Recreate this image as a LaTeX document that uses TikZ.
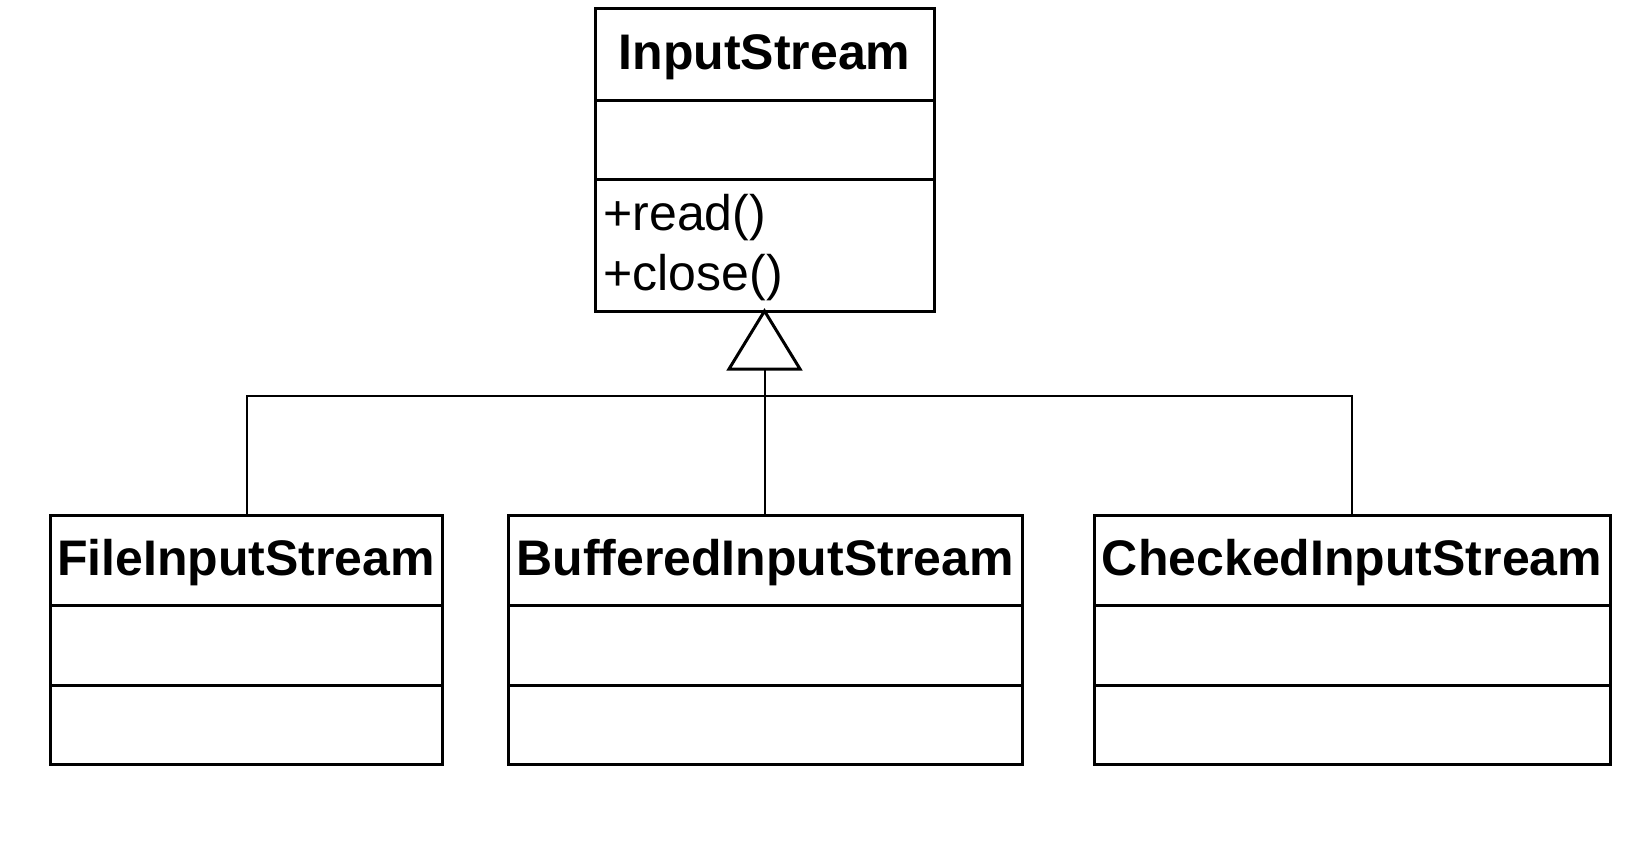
\documentclass[tikz,border=0pt]{standalone}
\usepackage{fontspec}
\setmainfont{Liberation Sans}
\begin{document}
\begin{tikzpicture}[x=1pt,y=-1pt,line width=3pt,
  cls/.style={draw,line join=miter},
  title/.style={font=\fontsize{50}{56}\selectfont\bfseries,inner sep=0pt},
  op/.style={font=\fontsize{50}{56}\selectfont,inner sep=0pt,anchor=west}]
\useasboundingbox (0,0) rectangle (1648,847);
% top class
\draw[cls] (595,8.5) rectangle (934,311);
\draw (595,100) -- (934,100);
\draw (595,179) -- (934,179);
\node[title] (t0) at (764.5,57) {InputStream};
\node[op] (o1) at (602,218) {+read()};
\node[op] (o2) at (602,278) {+close()};
\coordinate (apex) at (764.5,311);
% bottom classes
\foreach \n/\a/\b/\t in {c1/50/442/FileInputStream,c2/508/1022/BufferedInputStream,c3/1094/1610/CheckedInputStream}{
  \draw[cls] (\a,515) rectangle (\b,764);
  \draw (\a,605) -- (\b,605);
  \draw (\a,685) -- (\b,685);
  \node[title] (\n) at ({(\a+\b)/2},563) {\t};
}
\coordinate (j) at (764.5,396);
\coordinate (base) at (764.5,369);
\draw[line width=2pt] (247,515) -- (247,396) -- (1352,396) -- (1352,515);
\draw[line width=2pt] (base) -- (764.5,515);
\draw[line join=miter,fill=white] (apex) -- (729,369) -- (800,369) -- cycle;
\end{tikzpicture}
\end{document}
